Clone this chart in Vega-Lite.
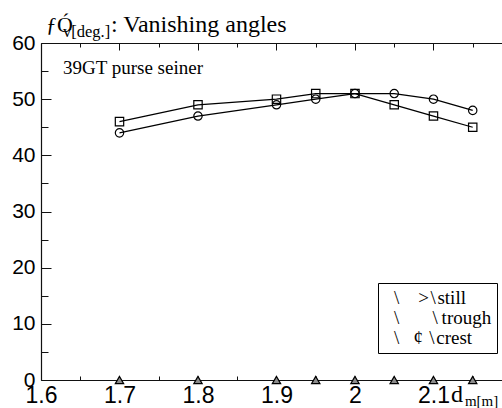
{
  "$schema": "https://vega.github.io/schema/vega-lite/v6.json",
  "width": 461,
  "height": 337,
  "autosize": {"type": "none"},
  "padding": {"left": 41, "top": 43, "right": 0, "bottom": 28},
  "background": "white",
  "config": {
    "view": {"stroke": null},
    "axis": {"domainColor": "#111", "domainWidth": 1.2, "tickColor": "#111", "tickWidth": 1, "labelColor": "black", "labelFont": "Liberation Sans", "labelFontSize": 21, "grid": false, "title": null},
    "legend": {"orient": "none", "legendX": 337, "legendY": 240, "strokeColor": "black", "fillColor": "white", "padding": 5, "labelFont": "Liberation Serif", "labelFontSize": 19, "labelColor": "black", "rowPadding": 0, "symbolOpacity": 0, "symbolSize": 25, "labelOffset": -8}
  },
  "data": {"values": [
    {"d": 1.7, "angle": 0, "cond": "still"},
    {"d": 1.8, "angle": 0, "cond": "still"},
    {"d": 1.9, "angle": 0, "cond": "still"},
    {"d": 1.95, "angle": 0, "cond": "still"},
    {"d": 2.0, "angle": 0, "cond": "still"},
    {"d": 2.05, "angle": 0, "cond": "still"},
    {"d": 2.1, "angle": 0, "cond": "still"},
    {"d": 2.15, "angle": 0, "cond": "still"},
    {"d": 1.7, "angle": 44, "cond": "trough"},
    {"d": 1.8, "angle": 47, "cond": "trough"},
    {"d": 1.9, "angle": 49, "cond": "trough"},
    {"d": 1.95, "angle": 50, "cond": "trough"},
    {"d": 2.0, "angle": 51, "cond": "trough"},
    {"d": 2.05, "angle": 51, "cond": "trough"},
    {"d": 2.1, "angle": 50, "cond": "trough"},
    {"d": 2.15, "angle": 48, "cond": "trough"},
    {"d": 1.7, "angle": 46, "cond": "crest"},
    {"d": 1.8, "angle": 49, "cond": "crest"},
    {"d": 1.9, "angle": 50, "cond": "crest"},
    {"d": 1.95, "angle": 51, "cond": "crest"},
    {"d": 2.0, "angle": 51, "cond": "crest"},
    {"d": 2.05, "angle": 49, "cond": "crest"},
    {"d": 2.1, "angle": 47, "cond": "crest"},
    {"d": 2.15, "angle": 45, "cond": "crest"}
  ]},
  "resolve": {"axis": {"x": "independent", "y": "independent"}},
  "layer": [
    {
      "transform": [{"filter": "datum.cond != 'still'"}],
      "mark": {"type": "line", "color": "black", "strokeWidth": 1.3},
      "encoding": {
        "x": {"field": "d", "type": "quantitative", "scale": {"domain": [1.6, 2.1873], "nice": false, "zero": false},
          "axis": {"orient": "bottom", "values": [1.6, 1.65, 1.7, 1.75, 1.8, 1.85, 1.9, 1.95, 2.0, 2.05, 2.1, 2.15], "format": "~g", "labelExpr": "round(datum.value*20) % 2 == 0 ? datum.label : ''", "tickSize": -4, "labelPadding": 26.5, "labelBaseline": "alphabetic", "labelFontSize": 23, "labelFlush": false}},
        "y": {"field": "angle", "type": "quantitative", "scale": {"domain": [0, 60], "nice": false},
          "axis": {"orient": "left", "values": [0, 10, 20, 30, 40, 50, 60], "tickSize": -10, "labelPadding": 16}},
        "detail": {"field": "cond"}
      }
    },
    {
      "mark": {"type": "point", "filled": false, "color": "black", "strokeWidth": 1.2, "size": 70, "opacity": 1},
      "encoding": {
        "x": {"field": "d", "type": "quantitative",
          "axis": {"orient": "top", "values": [1.6, 1.7, 1.8, 1.9, 2.0, 2.1], "tickSize": -7, "labels": false}},
        "y": {"field": "angle", "type": "quantitative",
          "axis": {"orient": "left", "values": [5, 15, 25, 35, 45, 55], "tickSize": -7, "labels": false, "domain": false}},
        "shape": {"field": "cond", "type": "nominal", "title": null,
          "scale": {"domain": ["still", "trough", "crest"], "range": ["triangle-up", "circle", "square"]},
          "legend": {"labelExpr": "datum.label == 'still' ? '\\\\\u2003>\u200a\\\\\u200astill' : datum.label == 'trough' ? '\\\\\u2003\u2002\u2005\\\\\u2009trough' : '\\\\\u2002\u2005¢\u2005\u200a\\\\\u200acrest'"}},
        "fill": {"condition": {"test": "datum.cond == 'still'", "value": "#8c8c8c"}, "value": "transparent"}
      }
    },
    {
      "transform": [{"filter": "datum.cond == 'still'"}],
      "mark": {"type": "point", "opacity": 0},
      "encoding": {
        "x": {"field": "d", "type": "quantitative",
          "axis": {"orient": "top", "values": [1.65, 1.75, 1.85, 1.95, 2.05, 2.15], "tickSize": -4, "labels": false, "domain": false}},
        "y": {"field": "angle", "type": "quantitative", "axis": null}
      }
    },
    {
      "data": {"values": [{}]},
      "mark": {"type": "text", "text": "ƒÓ", "align": "left", "baseline": "alphabetic", "font": "Liberation Serif", "fontSize": 22, "color": "black"},
      "encoding": {"x": {"datum": 1.6064, "type": "quantitative", "axis": null}, "y": {"datum": 62.01, "type": "quantitative", "axis": null}}
    },
    {
      "data": {"values": [{}]},
      "mark": {"type": "text", "text": "v[deg.]", "align": "left", "baseline": "alphabetic", "font": "Liberation Serif", "fontSize": 16.5, "color": "black"},
      "encoding": {"x": {"datum": 1.628, "type": "quantitative", "axis": null}, "y": {"datum": 61.12, "type": "quantitative", "axis": null}}
    },
    {
      "data": {"values": [{}]},
      "mark": {"type": "text", "text": ": Vanishing angles", "align": "left", "baseline": "alphabetic", "font": "Liberation Serif", "fontSize": 24, "color": "black"},
      "encoding": {"x": {"datum": 1.6892, "type": "quantitative", "axis": null}, "y": {"datum": 62.01, "type": "quantitative", "axis": null}}
    },
    {
      "data": {"values": [{}]},
      "mark": {"type": "text", "text": "39GT purse seiner", "align": "left", "baseline": "alphabetic", "font": "Liberation Serif", "fontSize": 19, "color": "black"},
      "encoding": {"x": {"datum": 1.628, "type": "quantitative", "axis": null}, "y": {"datum": 54.48, "type": "quantitative", "axis": null}}
    },
    {
      "data": {"values": [{}]},
      "mark": {"type": "text", "text": "d", "align": "left", "baseline": "alphabetic", "font": "Liberation Serif", "fontSize": 24, "color": "black"},
      "encoding": {"x": {"datum": 2.1223, "type": "quantitative", "axis": null}, "y": {"datum": -3.92, "type": "quantitative", "axis": null}}
    },
    {
      "data": {"values": [{}]},
      "mark": {"type": "text", "text": "m[m]", "align": "left", "baseline": "alphabetic", "font": "Liberation Serif", "fontSize": 15, "color": "black"},
      "encoding": {"x": {"datum": 2.1401, "type": "quantitative", "axis": null}, "y": {"datum": -4.63, "type": "quantitative", "axis": null}}
    }
  ]
}
